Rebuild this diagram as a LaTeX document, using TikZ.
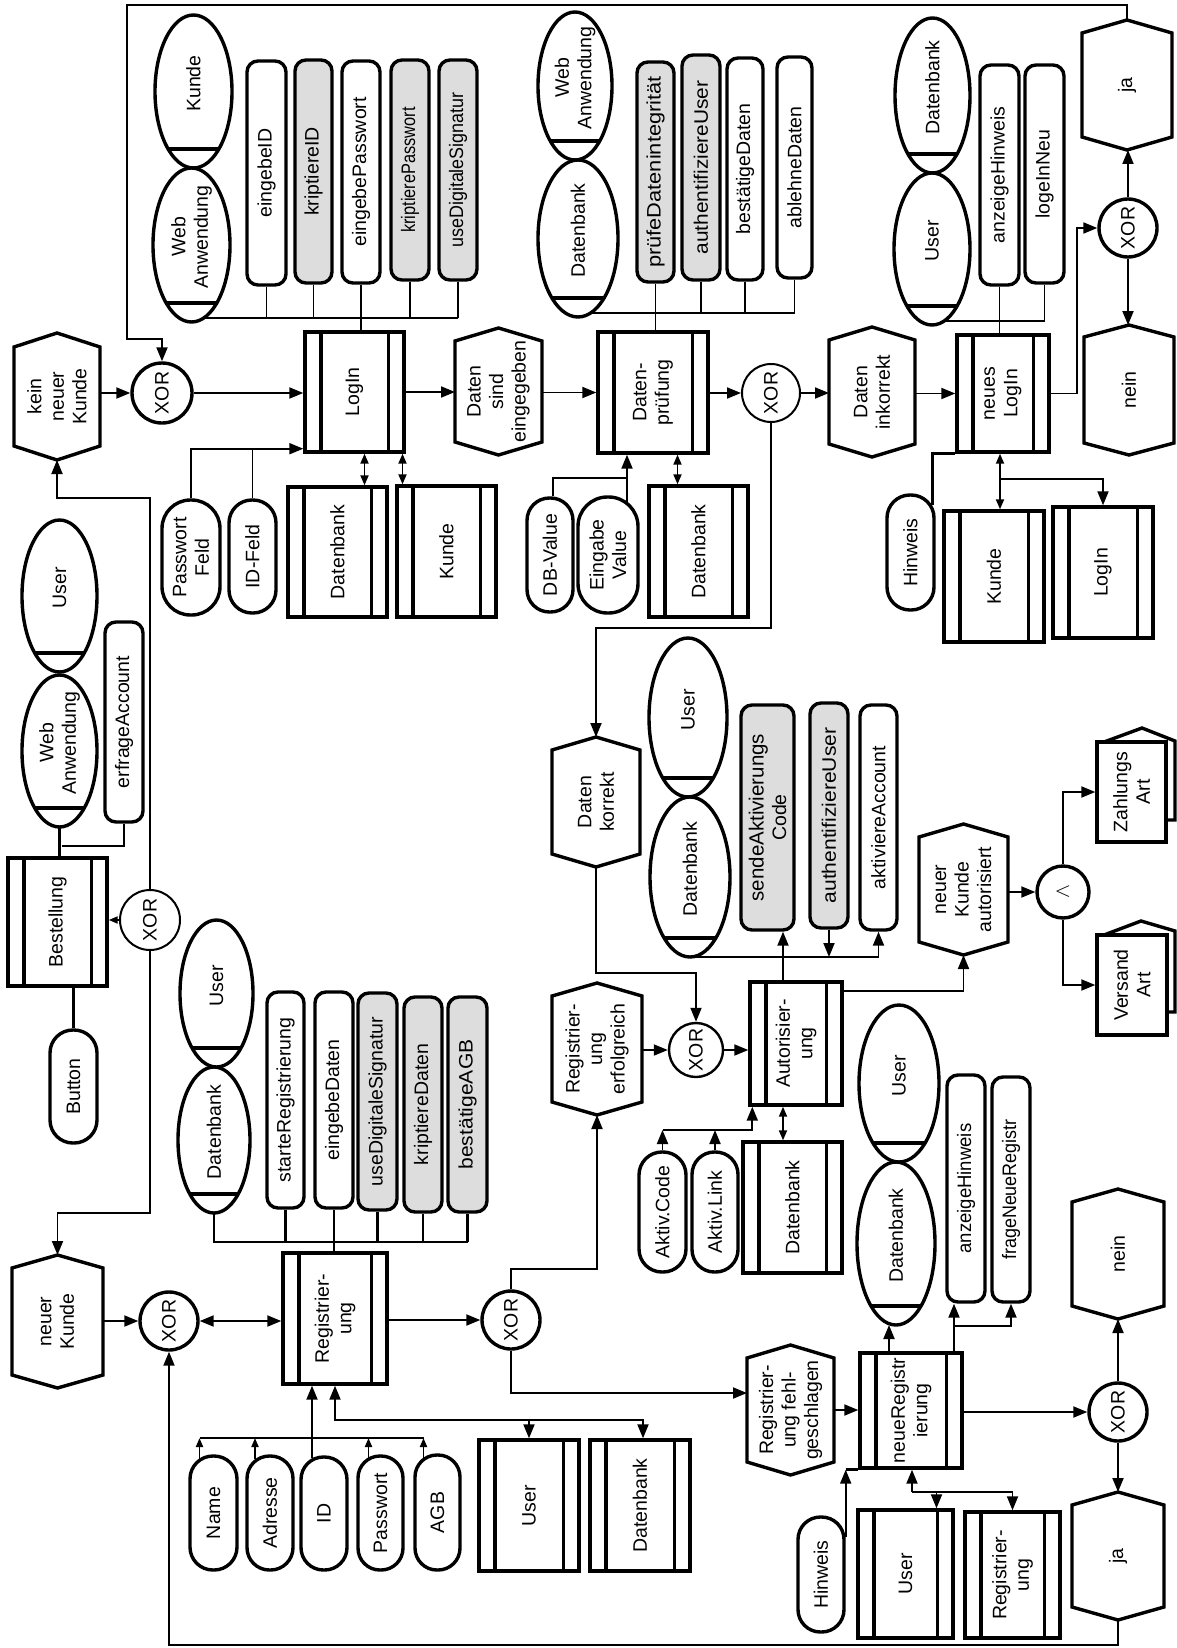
\documentclass[tikz,border=0pt]{standalone}
\usepackage{graphicx}
\usepackage{fontspec}
\setmainfont{Liberation Sans}
\usetikzlibrary{shapes.geometric,arrows.meta}
\definecolor{actgray}{RGB}{221,221,221}
\tikzset{
  shp/.style={line width=3.4pt},
  con/.style={line width=1.9pt},
  tip/.style={-{Triangle[length=14pt,width=11pt]}},
  stip/.style={-{Triangle[length=9pt,width=7pt]}},
  dtip/.style={{Triangle[length=10pt,width=8pt]}-{Triangle[length=10pt,width=8pt]}},
  btip/.style={{Triangle[length=14pt,width=11pt]}-{Triangle[length=14pt,width=11pt]}},
  txt/.style={rotate=90, align=center, inner sep=0pt, font=\fontsize{19.5}{22.5}\selectfont},
}
\newcommand\sx[2]{\scalebox{#1}[1]{#2}}
% process / information box with two bars
\newcommand\PBox[6]{%
  \node[draw, shp, fill=white, minimum width=#4pt, minimum height=#5pt, inner sep=0pt] (#1) at (#2,#3) {};
  \draw[shp] ([xshift=17.5pt]#1.north west) -- ([xshift=17.5pt]#1.south west)
             ([xshift=-17.5pt]#1.north east) -- ([xshift=-17.5pt]#1.south east);
  \node[txt] (#1t) at (#1) {#6};}
% event hexagon (pointed top and bottom)
\newcommand\EvHex[7]{%
  \node[minimum width=#4pt, minimum height=#5pt, inner sep=0pt, outer sep=0pt] (#1) at (#2,#3) {};
  \draw[shp, fill=white, line join=miter] (#1.north) -- ([yshift=-#6pt]#1.north east) -- ([yshift=#6pt]#1.south east)
     -- (#1.south) -- ([yshift=#6pt]#1.south west) -- ([yshift=-#6pt]#1.north west) -- cycle;
  \node[txt] (#1t) at (#1) {#7};}
% organisational ellipse with chord
\newcommand\Org[6]{%
  \node[draw, shp, ellipse, fill=white, minimum width=#4pt, minimum height=#5pt, inner sep=0pt, outer sep=0pt] (#1) at (#2,#3) {};
  \pgfmathsetmacro\chordhw{(#4/2)*sqrt(1-((#5/2-19)/(#5/2))^2)}%
  \draw[shp] ([xshift=-\chordhw pt, yshift=19pt]#1.south) -- ([xshift=\chordhw pt, yshift=19pt]#1.south);
  \node[txt] (#1t) at ([yshift=8pt]#1.center) {#6};}
% activity (rounded box)
\newcommand\Act[7]{%
  \node[draw, shp, fill=#6, rounded corners=11pt, minimum width=#4pt, minimum height=#5pt, inner sep=0pt] (#1) at (#2,#3) {};
  \node[txt] (#1t) at (#1) {#7};}
% terminal (stadium)
\newcommand\Term[6]{%
  \pgfmathsetmacro\rrad{#4/2-0.6}%
  \node[draw, shp, fill=white, rounded corners=\rrad pt, minimum width=#4pt, minimum height=#5pt, inner sep=0pt] (#1) at (#2,#3) {};
  \node[txt] (#1t) at (#1) {#6};}
% gate circle
\newcommand\Gate[6]{%
  \node[draw, circle, line width=#5pt, fill=white, minimum size=#4pt, inner sep=0pt] (#1) at (#2,#3) {};
  \node[txt] (#1t) at (#1) {#6};}

\begin{document}
\begin{tikzpicture}[x=1pt,y=-1pt]
\fill[white] (0,0) rectangle (1177,1648);
\useasboundingbox (0,0) rectangle (1177,1648);

% ---------- ellipses
\Org{ku1}{193.5}{91.5}{77}{153}{Kunde}
\Org{wa1}{191.5}{245}{77}{154}{Web\\Anwendung}
\Org{wa2}{575}{86}{74}{148}{Web\\Anwendung}
\Org{db2}{578}{238.5}{80}{157}{Datenbank}
\Org{db3}{932.5}{95.5}{75}{155}{Datenbank}
\Org{us3}{932}{249}{76}{152}{User}
\Org{us4}{688}{717.5}{78}{159}{User}
\Org{db4}{690}{877}{80}{160}{Datenbank}
\Org{us5}{59.5}{596}{75}{152}{User}
\Org{wa5}{59.5}{751}{75}{152}{Web\\Anwendung}
\Org{us6}{216.5}{993.5}{73}{147}{User}
\Org{db6}{214}{1140}{72}{146}{Datenbank}
\Org{us7}{899}{1083.5}{80}{157}{User}
\Org{db7}{896}{1243.5}{78}{163}{Datenbank}

% ---------- activities
\Act{eid}{266.5}{173}{39}{224}{white}{eingebeID}
\Act{kid}{313.5}{171.5}{37}{223}{actgray}{kriptiereID}
\Act{ep}{361}{172}{38}{222}{white}{eingebePasswort}
\Act{kp}{410}{170}{38}{220}{actgray}{\sx{0.84}{kriptierePasswort}}
\Act{uds}{458}{170}{38}{220}{actgray}{\sx{0.92}{useDigitaleSignatur}}
\Act{pd}{655.5}{172}{37}{220}{actgray}{\sx{1.12}{prüfeDatenintegrität}}
\Act{aua}{701}{167.5}{38}{225}{actgray}{\sx{1.07}{authentifiziereUser}}
\Act{bd}{745}{169}{36}{222}{white}{bestätigeDaten}
\Act{ad}{794.5}{167.5}{35}{221}{white}{ablehneDaten}
\Act{ahn}{999.5}{175}{39}{220}{white}{anzeigeHinweis}
\Act{lin}{1044.5}{174}{39}{218}{white}{logeInNeu}
\Act{ea}{124}{722}{38}{200}{white}{erfrageAccount}
\Act{sac}{767.5}{817.5}{53}{225}{actgray}{\fontsize{20.5}{23}\selectfont sendeAktivierungs\\Code}
\Act{aub}{829}{815.5}{38}{225}{actgray}{\sx{1.08}{authentifiziereUser}}
\Act{aa}{878.5}{817.5}{37}{225}{white}{aktiviereAccount}
\Act{sr}{285.5}{1100}{37}{216}{white}{starteRegistrierung}
\Act{ed}{334}{1100}{38}{216}{white}{eingebeDaten}
\Act{udb}{377.5}{1101.5}{39}{217}{actgray}{useDigitaleSignatur}
\Act{kd}{423}{1104.5}{38}{215}{actgray}{kriptiereDaten}
\Act{bag}{467.5}{1104.5}{39}{215}{actgray}{\sx{1.08}{bestätigeAGB}}
\Act{ahw}{966}{1188.5}{38}{227}{white}{\sx{0.95}{anzeigeHinweis}}
\Act{fnr}{1011}{1189.5}{38}{225}{white}{\sx{0.92}{frageNeueRegistr}}

% ---------- terminals
\Term{pf}{191}{557.5}{58}{115}{Passwort\\Feld}
\Term{idf}{252.5}{556.5}{47}{113}{ID-Feld}
\Term{dbv}{550}{555}{46}{114}{DB-Value}
\Term{ev}{608}{555}{60}{116}{Eingabe\\Value}
\Term{hwa}{910.5}{552.5}{47}{115}{Hinweis}
\Term{btn}{73.5}{1086.5}{47}{113}{Button}
\Term{ac}{662.5}{1212}{47}{120}{Aktiv.Code}
\Term{al}{715}{1212}{46}{120}{Aktiv.Link}
\Term{nm}{213.5}{1513}{47}{114}{Name}
\Term{adr}{270}{1513}{46}{114}{Adresse}
\Term{idt}{324}{1513.5}{46}{113}{ID}
\Term{pw}{380.5}{1513}{45}{114}{Passwort}
\Term{agb}{437.5}{1512.5}{45}{115}{AGB}
\Term{hwb}{821}{1574.5}{46}{115}{Hinweis}

% ---------- process / information boxes
\PBox{login}{354.5}{392}{99}{120}{LogIn}
\PBox{dp}{653}{392.5}{110}{121}{Daten-\\prüfung}
\PBox{nl}{1003}{393.5}{92}{117}{neues\\LogIn}
\PBox{au}{796}{1043.5}{92}{123}{Autorisier-\\ung}
\PBox{be}{57.5}{922}{99}{128}{Bestellung}
\PBox{reg}{335}{1318.5}{104}{131}{Registrier-\\ung}
\PBox{nr}{911}{1410.5}{102}{115}{neueRegistr\\ierung}
\PBox{dbl}{337.5}{552}{99}{130}{Datenbank}
\PBox{kul}{446.5}{551.5}{99}{131}{Kunde}
\PBox{dbm}{698.5}{551.5}{99}{131}{Datenbank}
\PBox{kur}{994}{576.5}{100}{131}{Kunde}
\PBox{lgr}{1103}{572.5}{100}{131}{LogIn}
\PBox{dba}{792.5}{1207.5}{99}{131}{Datenbank}
\PBox{ub}{529}{1505.5}{100}{131}{User}
\PBox{dbb}{640}{1505.5}{100}{131}{Datenbank}
\PBox{ubr}{905.5}{1574}{95}{128}{User}
\PBox{rgb}{1012.5}{1575}{95}{126}{Registrier-\\ung}

% ---------- events
\EvHex{kn}{57}{396.5}{86}{127}{14}{kein\\neuer\\Kunde}
\EvHex{dse}{498.5}{391.5}{87}{127}{13}{Daten\\sind\\eingegeben}
\EvHex{dik}{872}{392}{86}{130}{13}{Daten\\inkorrekt}
\EvHex{jaa}{1127}{85}{90}{130}{13}{ja}
\EvHex{neina}{1129}{390}{90}{130}{12}{nein}
\EvHex{dk}{596}{802}{88}{130}{13}{Daten\\korrekt}
\EvHex{re}{597}{1049}{90}{132}{13}{Registrier-\\ung\\erfolgreich}
\EvHex{nka}{963.5}{889.5}{89}{131}{13}{neuer\\Kunde\\autorisiert}
\EvHex{nk}{57.5}{1321.5}{91}{133}{13}{neuer\\Kunde}
\EvHex{rf}{790.5}{1410}{87}{130}{13}{Registrier-\\ung fehl-\\geschlagen}
\EvHex{neinb}{1118}{1254}{92}{130}{13}{nein}
\EvHex{jab}{1118}{1556}{92}{128}{13}{ja}

% ---------- gates
\Gate{xa}{162}{393}{60}{3.4}{XOR}
\Gate{xb}{771}{393}{58}{2}{XOR}
\Gate{xc}{1128}{228}{58}{3.4}{XOR}
\Gate{xd}{696}{1050}{54}{2.4}{XOR}
\Gate{xe}{150}{920}{60}{2}{XOR}
\Gate{xf}{169}{1321}{58}{3.4}{XOR}
\Gate{xg}{511}{1320}{58}{3.4}{XOR}
\Gate{xh}{1118}{1412}{58}{3.4}{XOR}
\Gate{andg}{1063}{892}{52}{3.4}{$\wedge$}

% ---------- document stacks
\draw[shp, fill=white, line join=miter] (1104,742) -- (1142,728) -- (1175,741) -- (1175,820) -- (1166,820);
\node[draw, shp, fill=white, minimum width=69pt, minimum height=100pt, inner sep=0pt] (zahl) at (1131.5,792) {};
\node[txt] (zahlt) at (zahl) {Zahlungs\\Art};
\draw[shp, fill=white, line join=miter] (1104,935) -- (1141,921) -- (1175,931) -- (1175,1012) -- (1167,1012);
\node[draw, shp, fill=white, minimum width=70pt, minimum height=100pt, inner sep=0pt] (vers) at (1132,985) {};
\node[txt] (verst) at (vers) {Versand\\Art};

% ================= connectors =================
% top loop from ja to first XOR
\draw[con,tip] (jaa.north) -- (jaa.north |- 0,5) -| (127,339) -| (xa.north);
% main row
\draw[con,tip] (kn.east |- xa.west) -- (xa.west);
\draw[con,tip] (xa.east) -- (xa.east -| login.west);
\draw[con,tip] (login.east) -- (login.east -| dse.west);
\draw[con,tip] (dse.east |- dp.west) -- (dp.west);
\draw[con,tip] (dp.east |- xb.west) -- (xb.west);
\draw[con,tip] (xb.east) -- (xb.east -| dik.west);
\draw[con,tip] (dik.east |- nl.west) -- (nl.west);
\draw[con,tip] (nl.east) -- ++(26,0) |- (xc.west);
\draw[con,tip] (xc.north) -- (xc.north |- jaa.south);
\draw[con,tip] (xc.south) -- (xc.south |- neina.north);

% bus above LogIn
\coordinate (b1) at (wa1.-80);
\draw[con] (b1) -- (b1 -| uds.south);
\foreach \n in {eid,kid,kp,uds} \draw[con] (\n.south) -- (\n.south |- b1);
\draw[con] (ep.south) -- (ep.south |- login.north);
% bus above Datenpruefung
\coordinate (b2) at (db2.-80);
\draw[con] (b2) -- (b2 -| ad.south);
\foreach \n in {aua,bd,ad} \draw[con] (\n.south) -- (\n.south |- b2);
\draw[con] (pd.south) -- (pd.south |- dp.north);
% bus above neues LogIn
\coordinate (b3) at (us3.-80);
\draw[con] (b3) -- (b3 -| lin.south);
\draw[con] (lin.south) -- (lin.south |- b3);
\draw[con] (ahn.south) -- (ahn.south |- nl.north);

% below LogIn
\coordinate (lgin) at ([yshift=5pt]login.south west);
\draw[con,tip] (pf.north) |- (lgin);
\draw[con] (idf.north) -- (idf.north |- lgin);
\coordinate (c1) at ([xshift=27pt]dbl.north);
\draw[con,dtip] (c1) -- (c1 |- login.south);
\coordinate (c2) at ([xshift=-44pt]kul.north);
\draw[con,dtip] (c2) -- (c2 |- login.south);

% below Datenpruefung
\coordinate (c3) at ([xshift=19pt,yshift=-7pt]ev.north);
\draw[con,tip] (c3) -- (c3 |- dp.south);
\coordinate (c4) at ([xshift=3pt]dbv.north);
\draw[con] (c4) |- (c3 |- 0,478);
\coordinate (c5) at ([xshift=-21pt]dbm.north);
\draw[con,dtip] (c5) -- (c5 |- dp.south);

% XOR2 -> Daten korrekt
\draw[con,tip] (xb.south) -- (xb.south |- 0,628) -| (dk.north);

% below neues LogIn
\coordinate (c6) at ([xshift=-3pt,yshift=-12pt]hwa.north east);
\draw[con,line width=3pt] (c6) |- (nl.south west);
\coordinate (c7) at ([xshift=-3pt]nl.south);
\draw[con,dtip] (c7) -- (c7 |- kur.north);
\draw[con,tip] (c7 |- 0,479) -| (lgr.north);

% Daten korrekt -> XOR4 -> Autorisierung
\draw[con,tip] (dk.south) -- (dk.south |- 0,973) -| (xd.north);
\draw[con,tip] (re.east |- xd.west) -- (xd.west);
\draw[con,tip] (xd.east) -- (xd.east -| au.west);
\coordinate (c8) at ([xshift=-13pt]au.north);
\draw[con,tip] (c8) -- (c8 |- sac.south);
\draw[con,tip] (db4.south) -| (aa.south);
\draw[con,tip] (aub.south) -- (aub.south |- db4.south);
\coordinate (c9) at ([yshift=-11pt]au.north east);
\draw[con,tip] (c9) -| (nka.south);
\draw[con,tip] (nka.east |- andg.west) -- (andg.west);
\draw[con,tip] (andg.north) |- (zahl.west);
\draw[con,tip] (andg.south) |- (vers.west);

% below Autorisierung
\coordinate (ab) at (0,1130);
\draw[con,tip] (ac.north) -- (ac.north |- ab);
\draw[con,tip] (al.north) -- (al.north |- ab);
\coordinate (c10) at ([xshift=4pt]au.south west);
\draw[con,tip] (ac.north |- ab) -| (c10);
\coordinate (c11) at ([xshift=-13pt]au.south);
\draw[con,dtip] (c11) -- (c11 |- dba.north);

% Bestellung
\draw[con,line width=3pt] (wa5.south) -- (wa5.south |- be.north);
\draw[con] (ea.south) |- (62,846);
\draw[con,line width=3pt] (btn.north) -- (btn.north |- be.south);
\draw[con,stip] (xe.west) -- (xe.west -| be.east);
\draw[con,tip] (xe.north) -- (xe.north |- 0,498) -| (kn.south);
\draw[con,tip] (xe.south) -- (xe.south |- 0,1213) -| (nk.north);

% Registrierung
\draw[con,tip] (nk.east |- xf.west) -- (xf.west);
\draw[con,btip] (xf.east) -- (xf.east -| reg.west);
\coordinate (rb) at (0,1242);
\draw[con,line width=2.6pt] (db6.south) |- (bag.south |- rb);
\foreach \n in {sr,udb,kd,bag} \draw[con,line width=2.6pt] (\n.south) -- (\n.south |- rb);
\draw[con,line width=2.6pt] (ed.south) -- (ed.south |- reg.north);
\draw[con,tip] (reg.east |- xg.west) -- (xg.west);
\draw[con,tip] (xg.north) -- (xg.north |- 0,1269) -| (re.south);
\coordinate (c12) at ([yshift=17pt]rf.west);
\draw[con,tip] (xg.south) |- (c12);
\draw[con,tip] (rf.east) -- (rf.east -| nr.west);

% below Registrierung
\coordinate (c13) at ([xshift=-12pt,yshift=-3pt]idt.north);
\draw[con,tip] (c13) -- (c13 |- reg.south);
\coordinate (ib) at (0,1438);
\coordinate (n1) at ([xshift=-14pt,yshift=-5pt]nm.north);
\coordinate (n2) at ([xshift=-15pt,yshift=-5pt]adr.north);
\coordinate (n3) at ([xshift=-12pt,yshift=-4pt]pw.north);
\coordinate (n4) at ([xshift=-14pt,yshift=-5pt]agb.north);
\draw[con] (n1 |- ib) -- (n4 |- ib);
\foreach \p in {n1,n2,n3,n4} \draw[con,stip] (\p) -- (\p |- ib);
\coordinate (c14) at ([xshift=3pt]dbb.north);
\draw[con,btip] (reg.south) |- (c14 |- 0,1420) -- (c14);
\draw[con,tip] (ub.north |- 0,1420) -- (ub.north);

% neueRegistrierung
\coordinate (c15) at ([xshift=-22pt]nr.north);
\draw[con,tip] (c15) -- (c15 |- db7.south);
\coordinate (c16) at ([xshift=43pt]nr.north);
\draw[con,tip] (c16) -- (c16 |- ahw.south);
\draw[con,tip] (c16 |- 0,1326) -| (fnr.south);
\draw[con,tip] (nr.east |- xh.west) -- (xh.west);
\draw[con,tip] (xh.north) -- (xh.north |- neinb.south);
\draw[con,tip] (xh.south) -- (xh.south |- jab.north);
\draw[con,tip] (jab.south) -- (jab.south |- 0,1645) -| (xf.south);
\coordinate (c17) at ([yshift=-22pt]hwb.north east);
\draw[con,tip] (c17) -- (c17 |- nr.south);
\draw[shp] (c17 |- nr.south) -- (nr.south west);
\coordinate (sp) at ([xshift=1pt]nr.south |- 0,1492);
\draw[con,tip] (sp) -- (sp |- nr.south);
\draw[con,tip] (sp) -| (rgb.north);
\coordinate (c18) at ([xshift=31pt]ubr.north);
\draw[con,tip] (c18 |- sp) -- (c18);
\end{tikzpicture}
\end{document}
